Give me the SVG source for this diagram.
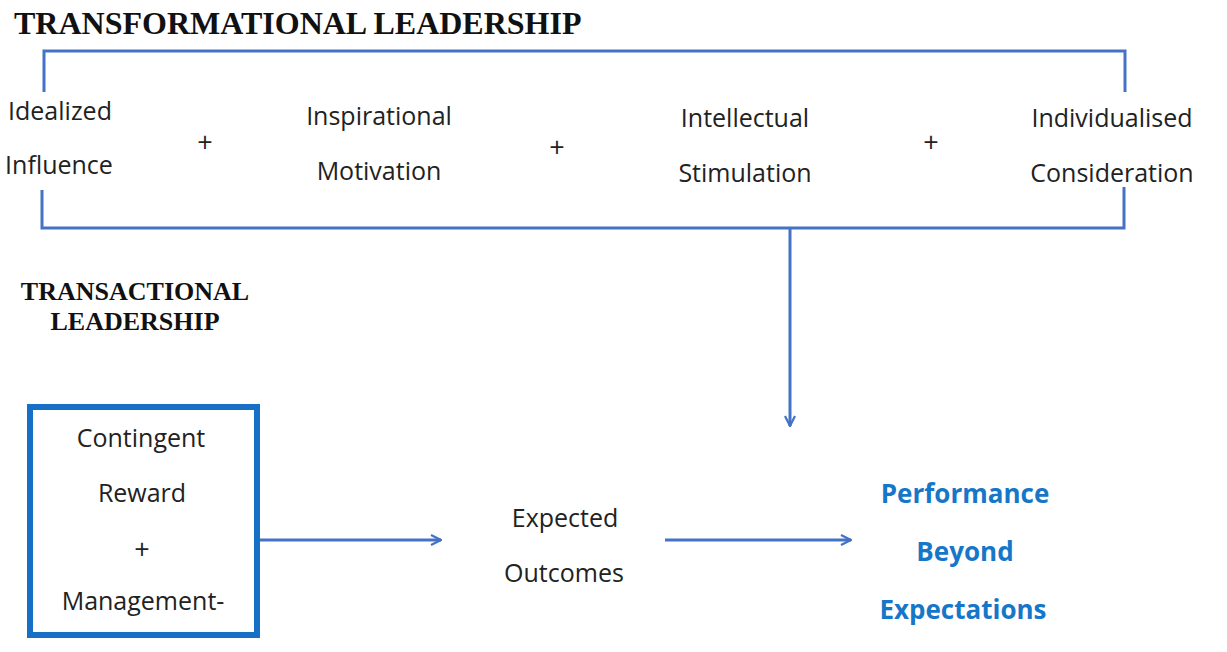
<svg xmlns="http://www.w3.org/2000/svg" width="1227" height="652" viewBox="0 0 1227 652">
  <defs>
    <style>
      .title { font-family: "Liberation Serif", "Times New Roman", serif; font-weight: bold; fill: #111; }
      .lbl { font-family: "Open Sans", "Liberation Sans", sans-serif; font-size: 25px; fill: #222; text-anchor: middle; }
      .plus { font-family: "Open Sans", "Liberation Sans", sans-serif; font-size: 27px; fill: #222; text-anchor: middle; }
      .out { font-family: "Open Sans", "Liberation Sans", sans-serif; font-size: 26px; font-weight: bold; fill: #1677C9; text-anchor: middle; }
      .line { fill: none; stroke: #4472C4; stroke-width: 3; stroke-linejoin: miter; }
    </style>
    <marker id="head" viewBox="0 0 12 12" refX="11" refY="6" markerWidth="12" markerHeight="12" markerUnits="userSpaceOnUse" orient="auto">
      <path d="M1,1 L11,6 L1,11" fill="none" stroke="#4472C4" stroke-width="2.2"/>
    </marker>
  </defs>
  <rect width="1227" height="652" fill="#fff"/>

  <!-- headings -->
  <text class="title" x="14" y="34" font-size="32">TRANSFORMATIONAL LEADERSHIP</text>
  <g id="transactional-title">
    <text class="title" x="135" y="300" font-size="26" text-anchor="middle">TRANSACTIONAL</text>
    <text class="title" x="135" y="330" font-size="26" text-anchor="middle">LEADERSHIP</text>
  </g>

  <!-- transformational components -->
  <g id="idealized-influence">
    <text class="lbl" x="60" y="120">Idealized</text>
    <text class="lbl" x="59" y="174">Influence</text>
  </g>
  <text class="plus" x="205" y="152">+</text>
  <g id="inspirational-motivation">
    <text class="lbl" x="379" y="125">Inspirational</text>
    <text class="lbl" x="379" y="180">Motivation</text>
  </g>
  <text class="plus" x="557" y="157">+</text>
  <g id="intellectual-stimulation">
    <text class="lbl" x="745" y="127">Intellectual</text>
    <text class="lbl" x="745" y="182">Stimulation</text>
  </g>
  <text class="plus" x="931" y="152">+</text>
  <g id="individualised-consideration">
    <text class="lbl" x="1112" y="127">Individualised</text>
    <text class="lbl" x="1112" y="182">Consideration</text>
  </g>

  <!-- transactional box -->
  <g id="transactional-box">
    <rect x="30" y="407" width="227" height="228" fill="none" stroke="#1570C6" stroke-width="6"/>
    <text class="lbl" x="141" y="447">Contingent</text>
    <text class="lbl" x="142" y="502">Reward</text>
    <text class="plus" x="142" y="559">+</text>
    <text class="lbl" x="143" y="610">Management-</text>
  </g>

  <g id="expected-outcomes">
    <text class="lbl" x="565" y="527">Expected</text>
    <text class="lbl" x="564" y="582">Outcomes</text>
  </g>

  <g id="performance">
    <text class="out" x="965" y="503">Performance</text>
    <text class="out" x="965" y="561">Beyond</text>
    <text class="out" x="963" y="619">Expectations</text>
  </g>

  <!-- connectors -->
  <g id="connectors">
    <path class="line" d="M44,92 V51 H1125 V92"/>
    <path class="line" d="M42,190 V228 H1124 V187"/>
    <path class="line" d="M790,228 V426" marker-end="url(#head)"/>
    <path class="line" d="M260,540 H441" marker-end="url(#head)"/>
    <path class="line" d="M665,540 H851" stroke-width="3.5" marker-end="url(#head)"/>
  </g>
</svg>
